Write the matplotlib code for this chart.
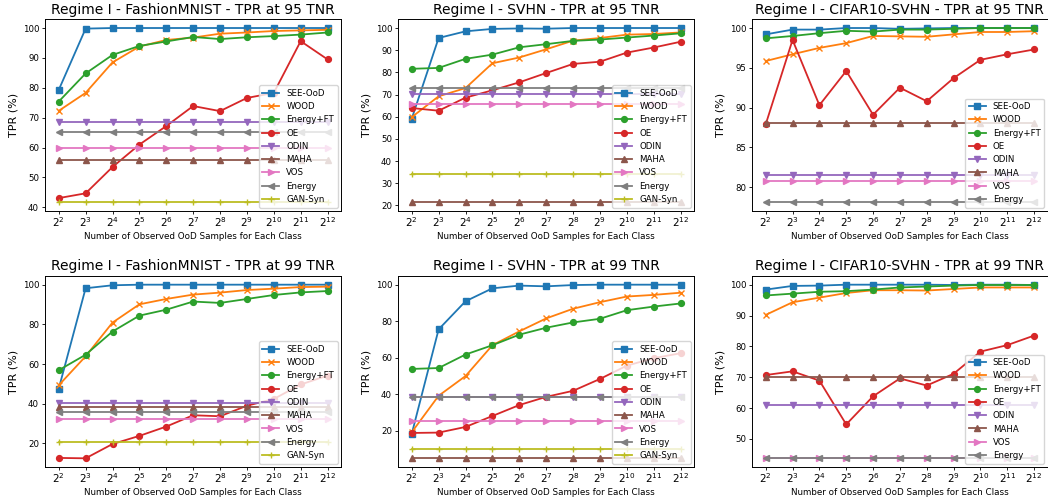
import matplotlib
matplotlib.use("Agg")
import matplotlib.pyplot as plt
import numpy as np

# x axis: number of observed OoD samples per class, 2^2 .. 2^12
exponents = list(range(2, 13))
x_labels = [r"$2^{%d}$" % e for e in exponents]

methods = ["SEE-OoD", "WOOD", "Energy+FT", "OE", "ODIN", "MAHA", "VOS", "Energy", "GAN-Syn"]
markers = ["s", "x", "o", "o", "v", "^", ">", "<", "+"]
colors = ["tab:blue", "tab:orange", "tab:green", "tab:red", "tab:purple",
          "tab:brown", "tab:pink", "tab:gray", "tab:olive"]

# ---- FashionMNIST, TPR at 95 TNR
fm95_see = [79.3, 99.8, 100, 100, 100, 100, 100, 100, 100, 100, 100]
fm95_wood = [72.3, 78.3, 88.5, 93.8, 96.0, 96.8, 98.1, 98.5, 99.0, 99.2, 99.4]
fm95_eft = [75.4, 84.8, 91.0, 94.0, 95.5, 97.0, 96.3, 96.9, 97.3, 97.8, 98.5]
fm95_oe = [43.1, 44.7, 53.5, 61.0, 67.2, 73.9, 72.2, 76.6, 78.3, 95.6, 89.5]
fm95_odin = 68.6
fm95_maha = 55.8
fm95_vos = 59.9
fm95_energy = 65.2
fm95_gan = 41.7

# ---- SVHN, TPR at 95 TNR
sv95_see = [59.1, 95.5, 98.5, 99.6, 99.8, 99.7, 100, 100, 100, 100, 100]
sv95_wood = [59.8, 69.2, 72.9, 84.1, 86.7, 90.4, 94.3, 95.5, 97.0, 97.3, 98.0]
sv95_eft = [81.6, 82.0, 86.1, 88.0, 91.3, 92.7, 94.2, 94.8, 95.7, 96.6, 97.6]
sv95_oe = [63.9, 62.7, 68.6, 71.9, 75.5, 79.7, 83.8, 84.8, 88.9, 91.2, 93.8]
sv95_odin = 70.2
sv95_maha = 21.4
sv95_vos = 65.7
sv95_energy = 72.8
sv95_gan = 34.3

# ---- CIFAR10-SVHN, TPR at 95 TNR (no GAN-Syn)
cs95_see = [99.2, 99.8, 99.8, 100, 100, 99.9, 99.95, 100, 100, 100, 100]
cs95_wood = [95.85, 96.7, 97.5, 98.1, 99.0, 98.95, 98.9, 99.2, 99.5, 99.5, 99.6]
cs95_eft = [98.7, 99.0, 99.35, 99.65, 99.55, 99.8, 99.8, 99.9, 100, 100, 100]
cs95_oe = [87.9, 98.5, 90.3, 94.6, 89.1, 92.5, 90.8, 93.7, 96.0, 96.7, 97.3]
cs95_odin = 81.5
cs95_maha = 88.1
cs95_vos = 80.8
cs95_energy = 78.1

# ---- FashionMNIST, TPR at 99 TNR
fm99_see = [47.6, 98.2, 99.7, 100, 100, 100, 100, 100, 100, 100, 100]
fm99_wood = [49.3, 63.9, 80.9, 90.1, 92.8, 95.0, 96.0, 97.3, 98.0, 98.8, 99.0]
fm99_eft = [56.9, 64.7, 76.4, 84.4, 87.4, 91.5, 90.8, 92.8, 94.8, 96.1, 96.8]
fm99_oe = [12.7, 12.5, 19.7, 23.8, 28.5, 34.2, 33.7, 39.0, 42.4, 49.7, 54.2]
fm99_odin = 40.2
fm99_maha = 38.5
fm99_vos = 32.2
fm99_energy = 35.7
fm99_gan = 20.8

# ---- SVHN, TPR at 99 TNR
sv99_see = [18.2, 75.5, 90.9, 98.0, 99.5, 99.1, 99.8, 100, 100, 100, 100]
sv99_wood = [19.1, 39.1, 49.9, 66.8, 74.4, 81.5, 86.8, 90.4, 93.5, 94.4, 95.6]
sv99_eft = [53.8, 54.3, 61.7, 66.8, 72.6, 76.4, 79.3, 81.3, 86.0, 88.0, 89.7]
sv99_oe = [18.7, 18.9, 22.0, 28.0, 34.0, 38.5, 41.8, 48.3, 55.6, 59.7, 62.4]
sv99_odin = 38.6
sv99_maha = 4.8
sv99_vos = 25.4
sv99_energy = 38.4
sv99_gan = 9.8

# ---- CIFAR10-SVHN, TPR at 99 TNR (no GAN-Syn)
cs99_see = [98.4, 99.6, 99.7, 100, 100, 100, 100, 99.9, 100, 100, 99.9]
cs99_wood = [90.2, 94.3, 95.8, 97.3, 98.2, 98.2, 98.1, 98.6, 99.1, 99.1, 99.1]
cs99_eft = [96.5, 97.1, 97.7, 97.9, 98.4, 99.1, 99.4, 99.7, 99.9, 99.9, 99.9]
cs99_oe = [70.7, 71.9, 68.9, 54.7, 63.8, 69.6, 67.3, 71.1, 78.3, 80.4, 83.5]
cs99_odin = 61.1
cs99_maha = 70.1
cs99_vos = 43.7
cs99_energy = 43.7

panels = [
    ("Regime I - FashionMNIST - TPR at 95 TNR",
     [fm95_see, fm95_wood, fm95_eft, fm95_oe, fm95_odin, fm95_maha, fm95_vos, fm95_energy, fm95_gan]),
    ("Regime I - SVHN - TPR at 95 TNR",
     [sv95_see, sv95_wood, sv95_eft, sv95_oe, sv95_odin, sv95_maha, sv95_vos, sv95_energy, sv95_gan]),
    ("Regime I - CIFAR10-SVHN - TPR at 95 TNR",
     [cs95_see, cs95_wood, cs95_eft, cs95_oe, cs95_odin, cs95_maha, cs95_vos, cs95_energy]),
    ("Regime I - FashionMNIST - TPR at 99 TNR",
     [fm99_see, fm99_wood, fm99_eft, fm99_oe, fm99_odin, fm99_maha, fm99_vos, fm99_energy, fm99_gan]),
    ("Regime I - SVHN - TPR at 99 TNR",
     [sv99_see, sv99_wood, sv99_eft, sv99_oe, sv99_odin, sv99_maha, sv99_vos, sv99_energy, sv99_gan]),
    ("Regime I - CIFAR10-SVHN - TPR at 99 TNR",
     [cs99_see, cs99_wood, cs99_eft, cs99_oe, cs99_odin, cs99_maha, cs99_vos, cs99_energy]),
]

W, H = 1048, 497
fig = plt.figure(figsize=(W / 100, H / 100), dpi=100)

# axes boxes in pixels (left, right, top, bottom)
col_x = [(45.3, 341), (398.3, 694), (752.3, 1047.5)]
row_y = [(19.3, 211), (276, 467)]

x = np.arange(len(exponents))
for i, (title, series) in enumerate(panels):
    r, c = divmod(i, 3)
    l, rr = col_x[c]
    t, b = row_y[r]
    ax = fig.add_axes([l / W, 1 - b / H, (rr - l) / W, (b - t) / H])
    for k, vals in enumerate(series):
        if np.isscalar(vals):
            vals = [vals] * len(x)
        ax.plot(x, vals, marker=markers[k], color=colors[k], label=methods[k],
                lw=1.3, ms=4.2, mew=1.0)
    ax.set_xticks(x)
    ax.set_xticklabels(x_labels, fontsize=7.5)
    ax.tick_params(axis="y", labelsize=6.2, pad=2)
    ax.tick_params(axis="x", pad=0.8)
    ax.tick_params(length=2.5, width=0.6)
    for sp in ax.spines.values():
        sp.set_linewidth(0.7)
    ax.set_title(title, fontsize=10, pad=4)
    ax.set_xlabel("Number of Observed OoD Samples for Each Class", fontsize=6.3, labelpad=2)
    ax.set_ylabel("TPR (%)", fontsize=8, labelpad=3)
    ax.legend(loc="lower right", fontsize=6.2, borderaxespad=0.4)

fig.savefig("out.png", dpi=100)
